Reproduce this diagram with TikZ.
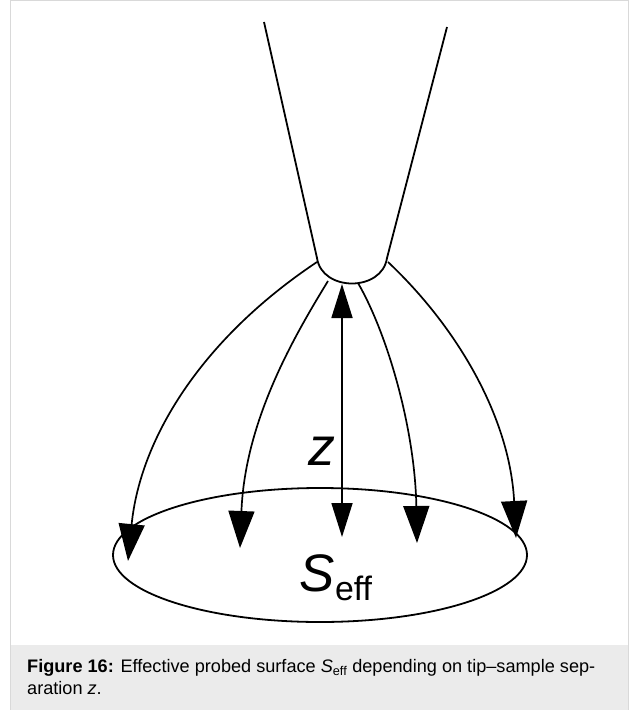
\documentclass[tikz,border=0pt]{standalone}
\usepackage{fontspec}
\setmainfont{Liberation Sans}
\usepackage{tikz}
\usetikzlibrary{arrows.meta, shapes.geometric, positioning}

\definecolor{panel}{gray}{0.92}
\definecolor{frame}{gray}{0.85}

\tikzset{
  field/.style={line width=1.7bp, -{Triangle[length=37bp, width=26bp]}},
  probe/.style={line width=1.8bp},
  surface/.style={draw, ellipse, line width=1.8bp, minimum width=414bp, minimum height=134bp, inner sep=0pt},
}

\begin{document}
\begin{tikzpicture}[x=1bp, y=-1bp]
   \useasboundingbox (0,0) rectangle (629,710);
   % frame and caption panel
   \fill[panel] (10,645) rectangle (628,710);
   \draw[frame, line width=1bp] (10.5,0.5) rectangle (628,710);

   % the tip
   \coordinate (tl) at (264,22);
   \coordinate (tr) at (447,27);
   \draw[probe] (tl) -- (317,258) .. controls (322,292) and (382,292) .. (387,258) -- (tr);

   % sample surface
   \node[surface] (surf) at (320,555) {};
   \node (seff) at (336,578) {\fontsize{53}{60}\selectfont\textit{S}\fontsize{34}{40}\selectfont\raisebox{-9bp}{eff}};

   % field lines
   \coordinate (s1) at (317,262);
   \coordinate (s2) at (328,281);
   \coordinate (s3) at (342,284);
   \coordinate (s4) at (358,283);
   \coordinate (s5) at (388,262);
   \coordinate (e1) at (128,561);
   \coordinate (e2) at (240,548);
   \coordinate (e3) at (342,537);
   \coordinate (e4) at (417,543);
   \coordinate (e5) at (516,538);

   \draw[field] (s1) .. controls (200,340) and (140,440) .. (e1);
   \draw[field] (s2) .. controls (295,335) and (245,420) .. (e2);
   \draw[field, {Triangle[length=34bp, width=21bp]}-{Triangle[length=34bp, width=21bp]}] (s3) -- (e3)
      node[pos=0.66, left=2bp] (z) {\fontsize{54}{60}\selectfont\textit{z}};
   \draw[field] (s4) .. controls (388,335) and (415,430) .. (e4);
   \draw[field] (s5) .. controls (460,330) and (510,420) .. (e5);

   % caption
   \node[anchor=north west, align=left, inner sep=0pt, font=\fontsize{18.2}{22.5}\selectfont] (cap) at (27,659)
      {\textbf{Figure 16:} Effective probed surface \textit{S}\textsubscript{eff} depending on tip–sample sep-\\aration \textit{z}.};
\end{tikzpicture}
\end{document}
